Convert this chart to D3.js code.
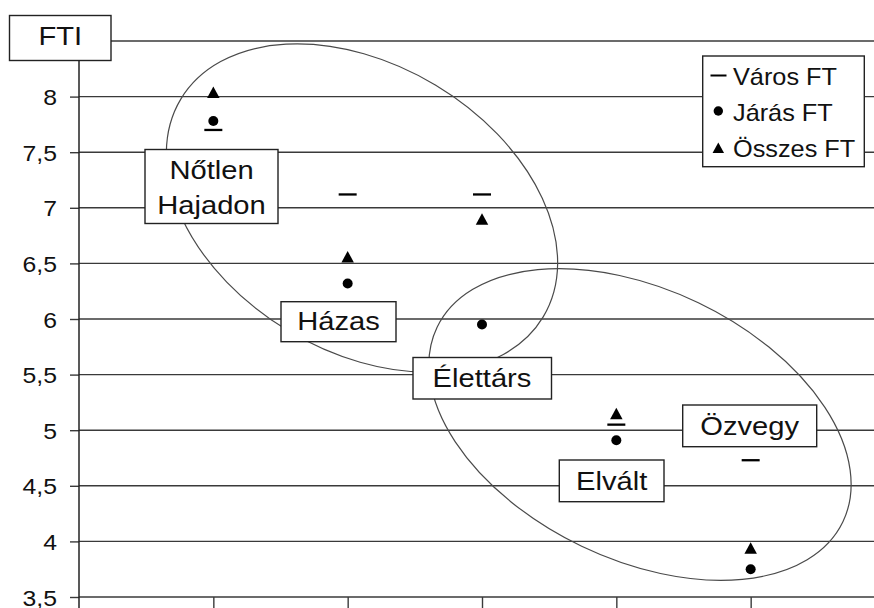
<!DOCTYPE html>
<html><head><meta charset="utf-8">
<script src="https://cdn.jsdelivr.net/npm/d3@7"></script>
<style>
html,body{margin:0;padding:0;background:#fff;}
svg{display:block;}
text{font-family:"Liberation Sans",Arial,sans-serif;fill:#111;}
</style></head>
<body>
<svg id="chart" width="874" height="608"></svg>
<script>
// ---------- data ----------
const categories = ["Nőtlen Hajadon", "Házas", "Élettárs", "Elvált", "Özvegy"];
const varosFT  = [7.70, 7.12, 7.12, 5.05, 4.73];
const jarasFT  = [7.78, 6.32, 5.95, 4.91, 3.75];
const osszesFT = [8.04, 6.56, 6.90, 5.15, 3.94];
const yTickValues = [3.5, 4, 4.5, 5, 5.5, 6, 6.5, 7, 7.5, 8, 8.5];
const yTickLabels = ["3,5", "4", "4,5", "5", "5,5", "6", "6,5", "7", "7,5", "8", "8,5"];
const seriesNames = ["Város FT", "Járás FT", "Összes FT"];
const axisTitle = "FTI";

// ---------- layout ----------
const W = 874, H = 608;
const svg = d3.select("#chart");
const x = d3.scalePoint().domain(["_s", ...categories, "_e"]).range([79, 885]);
const y = d3.scaleLinear().domain([3.5, 8.5]).range([597, 41]);
const SX = 1.1; // horizontal stretch of the text

function txt(g, px, py, str, size, anchor) {
  return g.append("text")
    .attr("transform", `translate(${px},${py}) scale(${SX},1)`)
    .attr("text-anchor", anchor || "start")
    .style("font-size", size + "px")
    .text(str);
}

// gridlines
svg.append("g").selectAll("line").data(yTickValues).join("line")
  .attr("x1", 79).attr("x2", W)
  .attr("y1", d => y(d)).attr("y2", d => y(d))
  .attr("stroke", "#3a3a3a").attr("stroke-width", 1.4);

// y axis
const yAxis = svg.append("g").attr("transform", "translate(79,0)")
  .call(d3.axisLeft(y).tickValues(yTickValues.slice(0, -1)).tickSizeInner(9).tickSizeOuter(0).tickFormat(""));
yAxis.select(".domain").remove();
yAxis.selectAll(".tick line").attr("stroke", "#3a3a3a").attr("stroke-width", 1.4);
svg.append("line").attr("x1", 79).attr("x2", 79).attr("y1", 41).attr("y2", H)
  .attr("stroke", "#222").attr("stroke-width", 1.5);

const lblG = svg.append("g");
yTickValues.slice(0, -1).forEach((v, i) => {
  txt(lblG, 57, y(v) + 8.5, yTickLabels[i], 22.5, "end");
});

// x axis ticks
const xAxis = svg.append("g").attr("transform", "translate(0,597)")
  .call(d3.axisBottom(x).tickValues(categories).tickSizeInner(12).tickSizeOuter(0).tickFormat(""));
xAxis.select(".domain").remove();
xAxis.selectAll(".tick line").attr("stroke", "#3a3a3a").attr("stroke-width", 1.4);

// ellipses
const ellipses = [
  {cx: 362, cy: 208, rx: 211.4, ry: 143.2, rot: 31},
  {cx: 640, cy: 424.5, rx: 225, ry: 135, rot: 25.6}
];
svg.append("g").selectAll("ellipse").data(ellipses).join("ellipse")
  .attr("cx", 0).attr("cy", 0).attr("rx", d => d.rx).attr("ry", d => d.ry)
  .attr("transform", d => `translate(${d.cx},${d.cy}) rotate(${d.rot})`)
  .attr("fill", "none").attr("stroke", "#4a4a4a").attr("stroke-width", 1.2);

// markers
function triPath(w, h) {
  return `M0,${-h/2}L${w/2},${h/2}L${-w/2},${h/2}Z`;
}
const mk = svg.append("g");
mk.selectAll("line.v").data(varosFT).join("line").attr("class", "v")
  .attr("x1", (d, i) => x(categories[i]) - 9).attr("x2", (d, i) => x(categories[i]) + 9)
  .attr("y1", d => y(d)).attr("y2", d => y(d))
  .attr("stroke", "#000").attr("stroke-width", 2.3);
mk.selectAll("circle.j").data(jarasFT).join("circle").attr("class", "j")
  .attr("cx", (d, i) => x(categories[i])).attr("cy", d => y(d)).attr("r", 5)
  .attr("fill", "#000");
mk.selectAll("path.o").data(osszesFT).join("path").attr("class", "o")
  .attr("d", triPath(12.5, 11.5))
  .attr("transform", (d, i) => `translate(${x(categories[i])},${y(d)})`)
  .attr("fill", "#000");

// label boxes
const boxes = [
  {x: 9.5, y: 15.5, w: 101.5, h: 45, lines: [axisTitle], tx: 60.3, by: [45]},
  {x: 145, y: 149.5, w: 133, h: 74, lines: categories[0].split(" "), tx: 211.5, by: [178.5, 213.5]},
  {x: 281, y: 301.7, w: 115, h: 40, lines: [categories[1]], tx: 338.5, by: [330]},
  {x: 413, y: 357.5, w: 138.5, h: 41.5, lines: [categories[2]], tx: 482, by: [386.7]},
  {x: 682.7, y: 405, w: 134, h: 41.7, lines: [categories[4]], tx: 749.7, by: [435]},
  {x: 559.3, y: 460, w: 104.7, h: 41.7, lines: [categories[3]], tx: 611.7, by: [490]}
];
const bg = svg.append("g");
boxes.forEach(b => {
  bg.append("rect").attr("x", b.x).attr("y", b.y).attr("width", b.w).attr("height", b.h)
    .attr("fill", "#fff").attr("stroke", "#222").attr("stroke-width", 1.4);
  b.lines.forEach((l, i) => txt(bg, b.tx, b.by[i], l, 26.5, "middle"));
});

// legend
const lg = svg.append("g");
lg.append("rect").attr("x", 702.7).attr("y", 56).attr("width", 161.6).attr("height", 110.7)
  .attr("fill", "#fff").attr("stroke", "#222").attr("stroke-width", 1.4);
const rowBase = [85, 120.5, 157];
const rowMid = [75.5, 111, 147.7];
lg.append("line").attr("x1", 710.5).attr("x2", 726.5).attr("y1", rowMid[0]).attr("y2", rowMid[0])
  .attr("stroke", "#000").attr("stroke-width", 2);
lg.append("circle").attr("cx", 718.3).attr("cy", rowMid[1]).attr("r", 4.7).attr("fill", "#000");
lg.append("path").attr("d", triPath(11.5, 10.5)).attr("transform", `translate(718.3,${rowMid[2]})`).attr("fill", "#000");
seriesNames.forEach((s, i) => txt(lg, 733, rowBase[i], s, 23, "start"));
</script>
</body></html>
